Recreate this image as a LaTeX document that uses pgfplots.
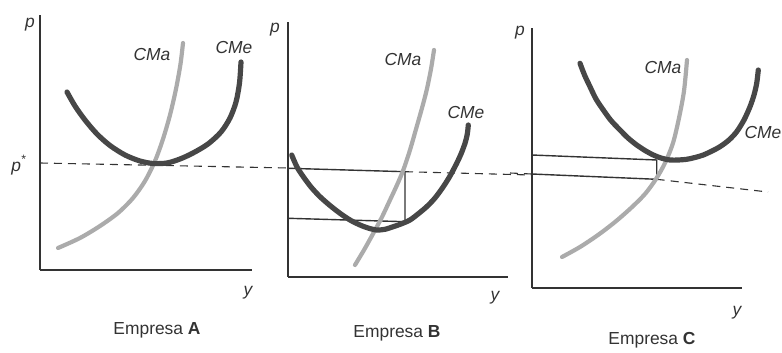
\documentclass[border=0pt]{standalone}
\usepackage{fontspec}
\setmainfont{Liberation Sans}
\usepackage{pgfplots}
\pgfplotsset{compat=1.18}
\definecolor{cmec}{HTML}{474747}
\definecolor{cmac}{HTML}{ABABAB}
\definecolor{ink}{HTML}{333333}
\newcommand\lab{\fontsize{8.7}{10}\selectfont}
\pgfplotsset{
  panel/.style={x=0.5pt, y=0.5pt, axis x line*=bottom, axis y line*=left,
    ticks=none, clip=false, anchor=south west,
    axis line style={ink, line width=0.8pt}},
  cme/.style={cmec, line width=2.6pt, smooth, no marks, line cap=round},
  cma/.style={cmac, line width=2.1pt, smooth, no marks, line cap=round},
  rect/.style={ink, line width=0.7pt, no marks},
  dash/.style={ink, line width=0.55pt, dash pattern=on 4pt off 3pt, no marks}
}
\begin{document}
\begin{tikzpicture}
\useasboundingbox (0,0) rectangle (391pt,176.5pt);
% ---------- Empresa A ----------
\begin{axis}[panel, at={(20pt,41.5pt)}, xmin=40, xmax=252, ymin=83, ymax=338]
\addplot[dash] coordinates {(40,190) (288,185)};
\addplot[cma] coordinates {(58,105) (80,115) (100,127) (118,140) (133,155) (145,172) (155,192) (163,214) (170,238) (176,264) (180.5,289) (183,310)};
\addplot[cme] coordinates {(67,261) (75,247) (85,233) (97,219) (110,207.5) (125,198) (140,192) (153,189.5) (167,190) (180,194) (193,200) (208,209) (221,221) (230,235) (236,251) (239.5,270) (241,291)};
\node[ink, font=\lab\itshape] at (axis cs:30,328) {p};
\node[ink, font=\lab\itshape] at (axis cs:19,188) {p\textsuperscript{*}};
\node[ink, font=\lab\itshape] at (axis cs:248,60) {y};
\node[ink, font=\lab\itshape] at (axis cs:152,298) {CMa};
\node[ink, font=\lab\itshape] at (axis cs:234,305) {CMe};
\node[ink, font=\lab] at (axis cs:157,23) {Empresa \textbf{A}};
\end{axis}
% ---------- Empresa B ----------
\begin{axis}[panel, at={(144pt,38pt)}, xmin=288, xmax=508, ymin=76, ymax=331]
\addplot[rect] coordinates {(288.3,184.7) (405,181.3) (405,131.3) (288.3,134.7)};
\addplot[dash] coordinates {(405,181.3) (531,178)};
\addplot[cma] coordinates {(355,88) (364,103) (373.3,119.7) (382,136) (390,153) (397,168) (403.3,183) (410,203) (416.7,226.3) (422,245) (426.7,263) (431,284) (434,303)};
\addplot[cme] coordinates {(291.7,198) (297,186) (303.3,176.3) (311,166) (320,156.3) (330,147.5) (340,139.7) (350,133) (360,128) (368,125) (376.7,123) (385,123.7) (393.3,126.3) (401,129) (410,133) (418,139) (426.7,146.3) (435,155) (443.3,166.3) (450,177) (456.7,189.7) (461,199) (465,209.7) (467.3,219) (468.3,228)};
\node[ink, font=\lab\itshape] at (axis cs:275,323) {p};
\node[ink, font=\lab\itshape] at (axis cs:495,55) {y};
\node[ink, font=\lab\itshape] at (axis cs:403,293) {CMa};
\node[ink, font=\lab\itshape] at (axis cs:466,240) {CMe};
\node[ink, font=\lab] at (axis cs:397,20) {Empresa \textbf{B}};
\end{axis}
% ---------- Empresa C ----------
\begin{axis}[panel, at={(265.85pt,32.5pt)}, xmin=531.7, xmax=741.7, ymin=65, ymax=325]
\addplot[rect] coordinates {(531.7,198) (656.7,193) (656.7,173.7) (531.7,179)};
\addplot[dash] coordinates {(510,180) (531.7,179)};
\addplot[dash] coordinates {(656.7,173.7) (768,161)};
\addplot[cma] coordinates {(562,96) (580,106) (598,118) (615,131) (631,145) (645,159) (656,174) (665,190) (673,210) (679,235) (684,262) (687,293)};
\addplot[cme] coordinates {(580,289.7) (584.5,278) (590,266.3) (596,254) (603.3,243) (611,232.5) (620,223) (628,215) (636.7,208) (645,202.5) (653.3,198) (661,195) (670,193) (678,193) (686.7,193.7) (695,195.5) (703.3,198) (712,202) (720,206.3) (729,213) (736.7,221.3) (744,233) (750,246.3) (754,258) (756.7,269.7) (758.3,283)};
\node[ink, font=\lab\itshape] at (axis cs:520,320) {p};
\node[ink, font=\lab\itshape] at (axis cs:737,40) {y};
\node[ink, font=\lab\itshape] at (axis cs:663,285) {CMa};
\node[ink, font=\lab\itshape] at (axis cs:763,220) {CMe};
\node[ink, font=\lab] at (axis cs:652,13) {Empresa \textbf{C}};
\end{axis}
\end{tikzpicture}
\end{document}
